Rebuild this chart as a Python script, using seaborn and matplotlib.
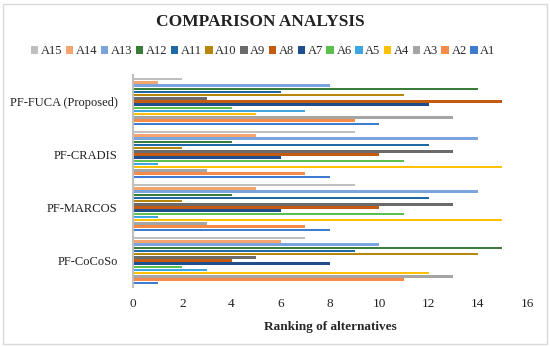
import matplotlib
matplotlib.use("Agg")
import matplotlib.pyplot as plt
import seaborn as sns
import pandas as pd
from matplotlib.patches import Rectangle

methods = ["PF-FUCA (Proposed)", "PF-CRADIS", "PF-MARCOS", "PF-CoCoSo"]
alternatives = ["A1", "A2", "A3", "A4", "A5", "A6", "A7", "A8", "A9", "A10", "A11", "A12", "A13", "A14", "A15"]

fuca   = [10, 9, 13, 5, 7, 4, 12, 15, 3, 11, 6, 14, 8, 1, 2]
cradis = [8, 7, 3, 15, 1, 11, 6, 10, 13, 2, 12, 4, 14, 5, 9]
marcos = [8, 7, 3, 15, 1, 11, 6, 10, 13, 2, 12, 4, 14, 5, 9]
cocoso = [1, 11, 13, 12, 3, 2, 8, 4, 5, 14, 9, 15, 10, 6, 7]

colors = ["#3E7CD0", "#F68A4A", "#A5A5A5", "#FFC000", "#3DA5E0", "#5CBF4E",
          "#1F4E8C", "#C55A11", "#6B6B6B", "#B8860B", "#1F6AA5", "#3A7D3A",
          "#7BA4DC", "#F4A46F", "#BFBFBF"]

rows = []
for m, vals in zip(methods, [fuca, cradis, marcos, cocoso]):
    for a, v in zip(alternatives, vals):
        rows.append({"Method": m, "Alt": a, "Rank": v})
df = pd.DataFrame(rows)

sns.set_theme(style="white")
plt.rcParams["font.family"] = ["Liberation Serif", "DejaVu Serif"]

fig = plt.figure(figsize=(5.5, 3.47), dpi=100)
ax = fig.add_axes([133/550, 1-287/347, (527-133)/550, (287-75)/347])

palette = dict(zip(alternatives, colors))
hue_order = alternatives[::-1]
sns.barplot(data=df, y="Method", x="Rank", hue="Alt", hue_order=hue_order,
            order=methods, palette=palette, orient="h", width=0.9, gap=0.25,
            ax=ax, saturation=1, legend=True, linewidth=0)

ax.set_xlim(0, 16)
ax.set_xticks(range(0, 17, 2))
ax.set_ylabel("")
ax.set_xlabel("Ranking of alternatives", fontsize=9.5, fontweight="bold", labelpad=8)
ax.tick_params(axis="both", length=0, colors="#222222")
ax.tick_params(axis="y", pad=11, labelsize=9)
ax.tick_params(axis="x", pad=8, labelsize=9.5)
for s in ["top", "right", "bottom"]:
    ax.spines[s].set_visible(False)
ax.spines["left"].set_color("#BFBFBF")
ax.spines["left"].set_linewidth(1.5)

handles, labels = ax.get_legend_handles_labels()
ax.get_legend().remove()
fig.legend(handles, labels, loc="center", bbox_to_anchor=(263/550, 1-51/347),
           ncol=15, frameon=False, fontsize=9, handlelength=0.6, handleheight=0.6,
           handletextpad=0.2, columnspacing=0.28, borderpad=0)

fig.text(260/550, 1-22/347, "COMPARISON ANALYSIS", ha="center", va="center",
         fontsize=12.5, fontweight="bold", color="#222222")

fig.patches.append(Rectangle((3/550, 3/347), 544/550, 340/347, transform=fig.transFigure,
                             fill=False, edgecolor="#D9D9D9", linewidth=1))

fig.savefig("out.png", dpi=100)
